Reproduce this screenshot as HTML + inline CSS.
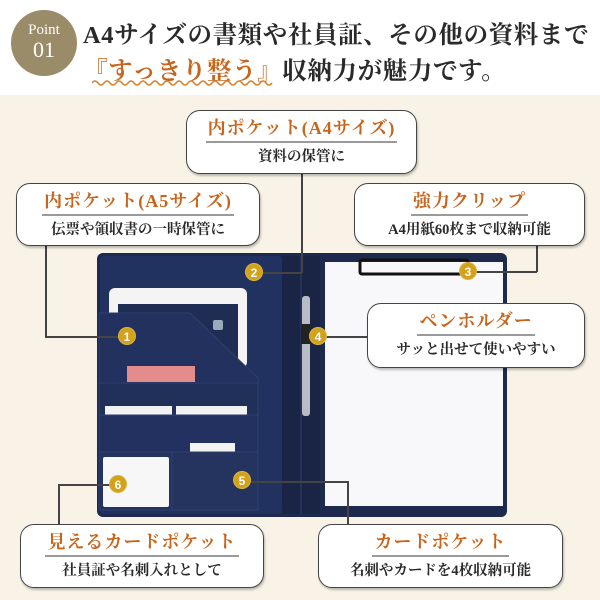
<!DOCTYPE html>
<html><head><meta charset="utf-8">
<style>
*{margin:0;padding:0;box-sizing:border-box}
body{width:600px;height:600px;overflow:hidden;background:#f8f3e6;font-family:"Liberation Serif","Noto Serif CJK JP","Noto Serif CJK SC",serif;position:relative}
.top{position:absolute;left:0;top:0;width:600px;height:95px;background:#fff}
.circ{position:absolute;left:11px;top:10px;width:66px;height:66px;border-radius:50%;background:#9a8b69;color:#fff;text-align:center}
.circ .a{font-size:15px;margin-top:12px;line-height:16px}
.circ .b{font-size:22px;line-height:24px}
.h{position:absolute;left:83px;font-size:24.5px;color:#2a2a2a;white-space:nowrap;letter-spacing:0.6px;font-weight:bold}
.or{color:#c8651c}
.box{position:absolute;background:#fff;border:1.6px solid #444;border-radius:14px;text-align:center;box-shadow:1px 2px 2px rgba(0,0,0,.25)}
.t{display:inline-block;color:#c8651c;font-size:18px;line-height:21px;margin-top:7px;padding:0 2px 2px;border-bottom:2px solid #9a9a9a;letter-spacing:1px;font-weight:bold}
.s{font-size:14.5px;color:#2a2a2a;margin-top:5px;line-height:18px;font-weight:bold}
.ln{position:absolute;background:#444}
.bd{position:absolute;width:18px;height:18px;border-radius:50%;background:#d3a21a;color:#fff;font-family:"Liberation Sans",sans-serif;font-weight:bold;font-size:12px;line-height:18px;text-align:center;border:1px solid #fff3}
</style></head><body>
<div class="top"></div>
<div class="circ"><div class="a">Point</div><div class="b">01</div></div>
<div class="h" style="top:16px">A4サイズの書類や社員証、その他の資料まで</div>
<div class="h" style="top:52px"><span class="or">『すっきり整う』</span>収納力が魅力です。</div>
<svg style="position:absolute;left:92px;top:79px" width="182" height="8"><path d="M0 4 q3 -4 6 0 t6 0 t6 0 t6 0 t6 0 t6 0 t6 0 t6 0 t6 0 t6 0 t6 0 t6 0 t6 0 t6 0 t6 0 t6 0 t6 0 t6 0 t6 0 t6 0 t6 0 t6 0 t6 0 t6 0 t6 0 t6 0 t6 0 t6 0 t6 0 t6 0" fill="none" stroke="#d9822b" stroke-width="1.5"/></svg>

<svg style="position:absolute;left:0;top:0" width="600" height="600">
<rect x="97" y="253" width="410" height="264" rx="6" fill="#1d2a4e"/>
<rect x="100" y="256" width="182" height="258" rx="4" fill="#223260"/>
<rect x="282" y="256" width="38" height="258" fill="#1a2546"/>
<line x1="301" y1="256" x2="301" y2="514" stroke="#2e3e6a"/>
<rect x="325" y="262" width="178" height="244" fill="#f8f8fb"/>
<rect x="360" y="260" width="108" height="14" rx="2" fill="none" stroke="#111" stroke-width="3"/>
<rect x="109" y="288" width="138" height="80" rx="6" fill="#f4f4f4"/>
<rect x="118" y="304" width="120" height="60" fill="#1f2d55"/>
<rect x="213" y="320" width="10" height="10" rx="2" fill="#9ab"/>
<polygon points="99,313 190,313 258,378 258,510 99,510" fill="#22315d" stroke="#2f4070"/>
<rect x="127" y="366" width="68" height="16" fill="#e48b8b"/>
<rect x="99" y="383" width="159" height="127" fill="#213059" stroke="#2f4070"/>
<rect x="105" y="406" width="67" height="9" fill="#f2f2f2"/>
<rect x="176" y="406" width="71" height="9" fill="#f2f2f2"/>
<rect x="99" y="415" width="159" height="95" fill="#223160" stroke="#2f4070"/>
<rect x="190" y="443" width="45" height="9" fill="#f2f2f2"/>
<rect x="99" y="452" width="159" height="58" fill="#25345f" stroke="#2f4070"/>
<rect x="103" y="457" width="66" height="50" rx="2" fill="#f7f7f7"/>
<line x1="172" y1="452" x2="172" y2="510" stroke="#2f4070"/>
<rect x="302" y="296" width="8" height="120" rx="3" fill="#b9bcc6"/>
<rect x="301" y="324" width="10" height="20" fill="#222"/>
</svg>

<div class="ln" style="left:301px;top:174px;width:1.5px;height:99px"></div>
<div class="ln" style="left:254px;top:272px;width:48px;height:1.5px"></div>
<div class="ln" style="left:45px;top:246px;width:1.5px;height:91px"></div>
<div class="ln" style="left:45px;top:336px;width:82px;height:1.5px"></div>
<div class="ln" style="left:536px;top:246px;width:1.5px;height:26px"></div>
<div class="ln" style="left:468px;top:271px;width:69px;height:1.5px"></div>
<div class="ln" style="left:318px;top:336px;width:50px;height:1.5px"></div>
<div class="ln" style="left:58px;top:484px;width:1.5px;height:40px"></div>
<div class="ln" style="left:58px;top:484px;width:60px;height:1.5px"></div>
<div class="ln" style="left:242px;top:481px;width:106px;height:1.5px"></div>
<div class="ln" style="left:347px;top:481px;width:1.5px;height:43px"></div>

<div class="bd" style="left:245px;top:263px">2</div>
<div class="bd" style="left:118px;top:327px">1</div>
<div class="bd" style="left:459px;top:262px">3</div>
<div class="bd" style="left:309px;top:327px">4</div>
<div class="bd" style="left:233px;top:471px">5</div>
<div class="bd" style="left:109px;top:475px">6</div>

<div class="box" style="left:186px;top:110px;width:231px;height:64px"><div class="t">内ポケット(A4サイズ)</div><div class="s">資料の保管に</div></div>
<div class="box" style="left:16px;top:183px;width:244px;height:63px"><div class="t">内ポケット(A5サイズ)</div><div class="s">伝票や領収書の一時保管に</div></div>
<div class="box" style="left:354px;top:183px;width:231px;height:63px"><div class="t">強力クリップ</div><div class="s">A4用紙60枚まで収納可能</div></div>
<div class="box" style="left:367px;top:303px;width:218px;height:65px"><div class="t">ペンホルダー</div><div class="s">サッと出せて使いやすい</div></div>
<div class="box" style="left:20px;top:524px;width:244px;height:64px"><div class="t">見えるカードポケット</div><div class="s">社員証や名刺入れとして</div></div>
<div class="box" style="left:318px;top:524px;width:245px;height:64px"><div class="t">カードポケット</div><div class="s">名刺やカードを4枚収納可能</div></div>
</body></html>
